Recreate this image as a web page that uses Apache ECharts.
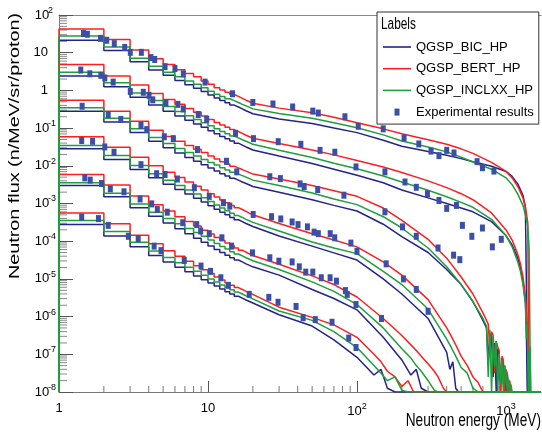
<!DOCTYPE html>
<html>
<head>
<meta charset="utf-8">
<script src="https://cdn.jsdelivr.net/npm/echarts@6.0.0/dist/echarts.min.js"></script>
<style>
  html, body { margin: 0; padding: 0; background: #fff; }
  #chart { width: 542px; height: 432px; }
</style>
</head>
<body>
<div id="chart"></div>
<script>
// -9 marks an empty bin: the histogram falls to the bottom of the frame there.
// Low energy part: histogram bins of 1 MeV from 1 to 20 MeV.
var binEdges = [1, 2, 3, 4, 5, 6, 7, 8, 9, 10, 11, 12, 13, 14, 15, 16, 17, 18, 19, 20];

// group 1 (top curves)
var g1Bic  = [1.33, 1.06, 0.76, 0.54, 0.40, 0.26, 0.15, 0.06, -0.03, -0.12, -0.20, -0.27, -0.33, -0.39, -0.44, -0.49, -0.54, -0.58, -0.62];
var g1Bert = [1.63, 1.35, 1.07, 0.84, 0.69, 0.55, 0.45, 0.36, 0.25, 0.16, 0.07, 0.01, -0.05, -0.11, -0.16, -0.21, -0.26, -0.30, -0.34];
var g1Incl = [1.44, 1.15, 0.85, 0.64, 0.48, 0.36, 0.25, 0.16, 0.07, -0.02, -0.10, -0.16, -0.22, -0.27, -0.32, -0.37, -0.41, -0.45, -0.49];
var g1TailE    = [20, 30, 50, 70, 100, 150, 200, 300, 400, 500, 600, 800, 1000, 1100, 1200, 1300, 1350, 1400, 1430, 1460];
var g1BicTail  = [-0.64, -0.76, -0.88, -1.00, -1.12, -1.32, -1.48, -1.62, -1.72, -1.81, -1.89, -2.01, -2.15, -2.28, -2.48, -2.78, -3.10, -9, -9, -9];
var g1BertTail = [-0.37, -0.47, -0.59, -0.71, -0.86, -1.02, -1.15, -1.31, -1.43, -1.55, -1.67, -1.91, -2.15, -2.32, -2.55, -2.85, -3.10, -3.50, -9, -9];
var g1InclTail = [-0.51, -0.61, -0.74, -0.86, -0.99, -1.18, -1.34, -1.50, -1.63, -1.77, -1.90, -2.09, -2.32, -2.50, -2.75, -3.05, -3.30, -3.60, -4.20, -9];

// group 2
var g2Bic  = [0.38, 0.10, -0.18, -0.39, -0.55, -0.68, -0.79, -0.89, -0.98, -1.07, -1.15, -1.22, -1.28, -1.34, -1.40, -1.45, -1.50, -1.54, -1.58];
var g2Bert = [0.69, 0.38, 0.14, -0.08, -0.24, -0.37, -0.48, -0.58, -0.68, -0.77, -0.85, -0.92, -0.98, -1.04, -1.09, -1.14, -1.19, -1.23, -1.27];
var g2Incl = [0.48, 0.20, -0.07, -0.27, -0.43, -0.56, -0.67, -0.77, -0.86, -0.94, -1.02, -1.09, -1.15, -1.21, -1.26, -1.31, -1.35, -1.39, -1.43];
var g2TailE    = [20, 30, 50, 70, 100, 150, 200, 300, 400, 500, 600, 800, 1000, 1100, 1200, 1250, 1300, 1330, 1350, 1370, 1390, 1410, 1430, 1450, 1470];
var g2BicTail  = [-1.60, -1.74, -1.94, -2.09, -2.25, -2.45, -2.64, -2.85, -3.00, -3.12, -3.22, -3.48, -3.85, -4.10, -4.45, -4.70, -5.05, -5.40, -5.60, -6.30, -9, -9, -9, -9, -9];
var g2BertTail = [-1.29, -1.41, -1.58, -1.71, -1.86, -2.03, -2.18, -2.40, -2.58, -2.74, -2.90, -3.25, -3.70, -3.97, -4.35, -4.60, -4.95, -5.25, -5.45, -5.90, -6.30, -7.20, -9, -9, -9];
var g2InclTail = [-1.45, -1.59, -1.78, -1.93, -2.08, -2.27, -2.43, -2.65, -2.82, -2.97, -3.10, -3.42, -3.85, -4.15, -4.55, -4.80, -5.15, -5.45, -5.65, -6.60, -6.20, -9, -7.00, -6.80, -9];

// group 3
var g3Bic  = [-0.55, -0.84, -1.12, -1.35, -1.52, -1.66, -1.78, -1.88, -1.97, -2.06, -2.14, -2.21, -2.27, -2.33, -2.38, -2.43, -2.47, -2.51, -2.55];
var g3Bert = [-0.26, -0.55, -0.82, -1.06, -1.22, -1.35, -1.46, -1.56, -1.65, -1.74, -1.82, -1.89, -1.95, -2.01, -2.06, -2.10, -2.14, -2.18, -2.22];
var g3Incl = [-0.46, -0.74, -1.02, -1.25, -1.41, -1.54, -1.65, -1.74, -1.83, -1.91, -1.98, -2.05, -2.11, -2.17, -2.22, -2.26, -2.30, -2.34, -2.38];
var g3TailE    = [20, 30, 50, 70, 100, 150, 200, 300, 400, 500, 600, 700, 740, 760, 780, 800, 820, 840, 860, 880, 900, 920, 940, 960, 980, 1000, 1020, 1040, 1060, 1080, 1100];
var g3BicTail  = [-2.57, -2.70, -2.90, -3.05, -3.20, -3.55, -3.88, -4.30, -4.75, -5.15, -5.60, -6.10, -6.30, -7.20, -6.45, -6.55, -7.60, -6.70, -9, -6.85, -6.95, -9, -7.10, -7.80, -7.30, -9, -7.50, -9, -9, -9, -9];
var g3BertTail = [-2.24, -2.35, -2.52, -2.66, -2.81, -3.12, -3.45, -3.95, -4.45, -4.95, -5.40, -5.90, -6.10, -6.20, -6.90, -6.40, -6.50, -7.50, -6.65, -6.80, -6.90, -8.00, -7.05, -7.15, -9, -7.40, -7.50, -9, -7.70, -9, -9];
var g3InclTail = [-2.40, -2.52, -2.72, -2.88, -3.03, -3.35, -3.65, -4.18, -4.68, -5.15, -5.60, -6.05, -6.25, -7.60, -6.35, -9, -6.50, -7.30, -6.65, -9, -7.00, -7.80, -7.15, -9, -7.30, -7.50, -9, -7.65, -9, -7.80, -9];

// group 4
var g4Bic  = [-1.55, -1.83, -2.10, -2.32, -2.49, -2.63, -2.75, -2.86, -2.96, -3.06, -3.15, -3.23, -3.30, -3.37, -3.43, -3.48, -3.53, -3.57, -3.61];
var g4Bert = [-1.23, -1.51, -1.77, -2.00, -2.17, -2.31, -2.43, -2.54, -2.64, -2.74, -2.83, -2.91, -2.98, -3.05, -3.11, -3.16, -3.21, -3.26, -3.30];
var g4Incl = [-1.46, -1.73, -1.99, -2.21, -2.38, -2.52, -2.64, -2.75, -2.85, -2.95, -3.04, -3.12, -3.19, -3.26, -3.32, -3.37, -3.42, -3.46, -3.50];
var g4TailE    = [20, 30, 50, 70, 100, 150, 200, 300, 400, 420, 440, 460, 480, 500, 550, 600, 650, 700];
var g4BicTail  = [-3.63, -3.86, -4.13, -4.31, -4.50, -5.00, -5.40, -6.05, -6.95, -7.40, -7.20, -7.90, -9, -9, -9, -9, -9, -9];
var g4BertTail = [-3.33, -3.53, -3.80, -3.97, -4.15, -4.55, -4.90, -5.55, -6.30, -6.45, -6.60, -6.75, -6.90, -7.05, -7.30, -7.60, -7.75, -9];
var g4InclTail = [-3.52, -3.73, -4.02, -4.18, -4.33, -4.80, -5.15, -5.80, -6.60, -6.75, -6.90, -7.05, -7.20, -7.35, -7.50, -7.90, -9, -9];

// group 5
var g5Bic  = [-2.52, -2.82, -3.11, -3.34, -3.52, -3.67, -3.80, -3.92, -4.03, -4.13, -4.22, -4.30, -4.37, -4.44, -4.50, -4.55, -4.60, -4.64, -4.68];
var g5Bert = [-2.23, -2.51, -2.80, -3.03, -3.20, -3.35, -3.48, -3.60, -3.71, -3.81, -3.90, -3.98, -4.05, -4.12, -4.18, -4.24, -4.29, -4.34, -4.38];
var g5Incl = [-2.45, -2.73, -3.01, -3.23, -3.40, -3.54, -3.66, -3.77, -3.87, -3.97, -4.06, -4.14, -4.21, -4.28, -4.34, -4.39, -4.44, -4.48, -4.52];
var g5TailE    = [20, 30, 50, 70, 100, 150, 200, 230, 250, 270, 300, 330, 350, 380, 400];
var g5BicTail  = [-4.70, -4.90, -5.28, -5.52, -5.82, -6.55, -7.15, -7.55, -7.40, -7.90, -9, -9, -9, -9, -9];
var g5BertTail = [-4.40, -4.61, -4.92, -5.15, -5.48, -6.05, -6.50, -6.75, -6.90, -7.05, -7.25, -7.45, -7.60, -7.90, -9];
var g5InclTail = [-4.55, -4.75, -5.08, -5.33, -5.68, -6.30, -6.85, -7.10, -7.30, -7.45, -7.70, -7.95, -9, -9, -9];

// group 6 (bottom curves)
var g6Bic  = [-3.56, -3.86, -4.15, -4.38, -4.55, -4.69, -4.81, -4.92, -5.02, -5.11, -5.19, -5.27, -5.34, -5.40, -5.46, -5.51, -5.56, -5.60, -5.64];
var g6Bert = [-3.25, -3.54, -3.84, -4.07, -4.25, -4.40, -4.53, -4.65, -4.76, -4.86, -4.95, -5.03, -5.10, -5.17, -5.23, -5.28, -5.33, -5.37, -5.41];
var g6Incl = [-3.45, -3.74, -4.03, -4.26, -4.43, -4.57, -4.69, -4.80, -4.90, -5.00, -5.08, -5.16, -5.23, -5.29, -5.35, -5.40, -5.45, -5.49, -5.53];
var g6TailE    = [20, 30, 50, 70, 100, 130, 145, 160, 180, 200, 220, 240];
var g6BicTail  = [-5.66, -5.95, -6.25, -6.62, -7.08, -7.55, -7.40, -7.90, -9, -9, -9, -9];
var g6BertTail = [-5.43, -5.75, -6.02, -6.22, -6.55, -7.00, -7.20, -7.45, -7.60, -7.85, -7.70, -9];
var g6InclTail = [-5.55, -5.85, -6.10, -6.40, -6.82, -7.30, -7.50, -7.70, -7.60, -7.95, -9, -9];

// experimental points: [energy MeV, log10 flux]
var g1Exp = [[1.46,1.51],[1.55,1.49],[1.9,1.38],[2.09,1.33],[2.35,1.24],[2.76,1.14],[3.01,1.01],[3.57,1.01],[4.14,0.87],[4.39,0.82],[5.15,0.63],[6.0,0.58],[6.83,0.44],[9.55,0.22],[14.6,-0.09],[20,-0.32],[27.3,-0.36],[37,-0.44],[50.5,-0.55],[55,-0.6],[83,-0.70],[102,-0.95],[150,-1.02],[207,-1.26],[260,-1.42],[314,-1.61],[355,-1.73],[400,-1.59],[448,-1.66],[640,-1.89],[695,-2.05],[830,-2.14]];
var g2Exp = [[1.40,0.54],[1.61,0.44],[1.91,0.40],[2.03,0.33],[2.31,0.22],[3.01,-0.03],[3.68,-0.05],[4.02,-0.13],[4.26,-0.25],[5.22,-0.33],[6.28,-0.37],[6.83,-0.49],[8.6,-0.64],[9.8,-0.77],[15.3,-1.14],[20.2,-1.28],[29.6,-1.36],[42,-1.43],[56.5,-1.59],[71,-1.64],[98.5,-2.03],[154,-2.16],[210,-2.43],[250,-2.57],[297,-2.74],[355,-2.92],[400,-3.13],[465,-3.05],[510,-3.58],[590,-3.87],[695,-3.65],[810,-4.15],[930,-3.95]];
var g3Exp = [[1.43,-0.42],[2.14,-0.64],[2.6,-0.77],[3.55,-0.93],[3.88,-1.04],[5.09,-1.23],[5.85,-1.28],[8.5,-1.57],[13.3,-1.88],[15.6,-2.16],[26,-2.29],[30.6,-2.34],[41.5,-2.48],[44.2,-2.55],[54.5,-2.63],[81.7,-2.78],[154,-3.22],[202,-3.62],[250,-3.87],[350,-4.18],[445,-4.37],[490,-4.49]];
var g4Exp = [[1.42,-1.33],[1.68,-1.35],[2.03,-1.50],[2.34,-1.64],[3.55,-1.97],[4.52,-2.21],[5.15,-2.23],[6.23,-2.35],[8.1,-2.58],[10.2,-2.81],[12.7,-2.98],[14.0,-3.07],[20.1,-3.29],[26.7,-3.35],[30.8,-3.41],[36.7,-3.49],[40.2,-3.56],[46.5,-3.62],[51.5,-3.76],[55,-3.80],[66.1,-3.80],[70.9,-3.91],[91,-4.05],[100,-4.27],[157,-4.6],[205,-5.0],[250,-5.28],[300,-5.86]];
var g5Exp = [[1.49,-2.32],[1.62,-2.38],[1.93,-2.47],[2.21,-2.61],[2.73,-2.69],[3.5,-2.88],[4.19,-3.01],[4.57,-3.16],[5.33,-3.23],[6.77,-3.51],[8.4,-3.56],[8.93,-3.73],[10.2,-3.80],[12.4,-3.91],[14.4,-4.13],[19.9,-4.31],[26,-4.44],[29.9,-4.53],[36.7,-4.55],[41,-4.68],[45.3,-4.82],[50.5,-4.82],[57.6,-4.97],[66,-4.97],[72.8,-5.06],[83.6,-5.31],[86,-5.41],[98.5,-5.68],[146,-6.05]];
var g6Exp = [[1.42,-3.36],[1.84,-3.40],[2.14,-3.58],[2.92,-3.87],[3.4,-3.93],[4.35,-4.13],[4.84,-4.25],[6.93,-4.51],[8.98,-4.66],[10.4,-4.80],[12.2,-4.97],[13.7,-5.17],[18.9,-5.41],[25.6,-5.49],[29.5,-5.62],[39,-5.73],[43.5,-6.03],[52.5,-6.08],[68,-6.15],[88,-6.57],[98.5,-6.82]];

// minor tick positions of the log axes
var xMinorTicks = [2,3,4,5,6,7,8,9,20,30,40,50,60,70,80,90,200,300,400,500,600,700,800,900];
var yMinorMantissa = [2,3,4,5,6,7,8,9];
var yDecades = [-8,-7,-6,-5,-4,-3,-2,-1,0,1];

var FONT = "'Liberation Sans', Arial, Helvetica, sans-serif";
var COLORS = { bic: '#23238c', bert: '#ff1e1e', incl: '#1e9e3c', exp: '#3b4fa6' };
var X_MIN = 1, X_MAX = 1718, Y_MIN = 1e-8, Y_MAX = 100;

function flux(e) { return e <= -8 ? Y_MIN : Math.pow(10, e); }

function histData(bins, tailE, tail) {
    var d = [[binEdges[0], Y_MIN]];
    for (var i = 0; i < bins.length; i++) {
        d.push([binEdges[i], flux(bins[i])]);
        d.push([binEdges[i + 1], flux(bins[i])]);
    }
    for (var j = 0; j < tailE.length; j++) {
        d.push([tailE[j], flux(tail[j])]);
    }
    d.push([X_MAX, Y_MIN]);
    return d;
}

var groups = [
    {bic: [g1Bic, g1TailE, g1BicTail], bert: [g1Bert, g1TailE, g1BertTail], incl: [g1Incl, g1TailE, g1InclTail], exp: g1Exp},
    {bic: [g2Bic, g2TailE, g2BicTail], bert: [g2Bert, g2TailE, g2BertTail], incl: [g2Incl, g2TailE, g2InclTail], exp: g2Exp},
    {bic: [g3Bic, g3TailE, g3BicTail], bert: [g3Bert, g3TailE, g3BertTail], incl: [g3Incl, g3TailE, g3InclTail], exp: g3Exp},
    {bic: [g4Bic, g4TailE, g4BicTail], bert: [g4Bert, g4TailE, g4BertTail], incl: [g4Incl, g4TailE, g4InclTail], exp: g4Exp},
    {bic: [g5Bic, g5TailE, g5BicTail], bert: [g5Bert, g5TailE, g5BertTail], incl: [g5Incl, g5TailE, g5InclTail], exp: g5Exp},
    {bic: [g6Bic, g6TailE, g6BicTail], bert: [g6Bert, g6TailE, g6BertTail], incl: [g6Incl, g6TailE, g6InclTail], exp: g6Exp}
];

var models = [
    {key: 'bic', name: 'QGSP_BIC_HP'},
    {key: 'bert', name: 'QGSP_BERT_HP'},
    {key: 'incl', name: 'QGSP_INCLXX_HP'}
];

var series = [];
models.forEach(function (m) {
    groups.forEach(function (g) {
        var a = g[m.key];
        series.push({
            name: m.name,
            type: 'line',
            data: histData(a[0], a[1], a[2]),
            symbol: 'none',
            clip: true,
            lineStyle: {color: COLORS[m.key], width: 1.5},
            itemStyle: {color: COLORS[m.key]},
            silent: true
        });
    });
});

var expPoints = [];
groups.forEach(function (g) {
    g.exp.forEach(function (p) { expPoints.push([p[0], Math.pow(10, p[1])]); });
});
series.push({
    name: 'Experimental results',
    type: 'scatter',
    data: expPoints,
    symbol: 'rect',
    symbolSize: [5, 7],
    itemStyle: {color: COLORS.exp, opacity: 1},
    silent: true,
    z: 5
});

// minor ticks of both axes, drawn through the axis scales
var xTickData = xMinorTicks.map(function (v) { return [v, Y_MIN]; });
var yTickData = [];
yDecades.forEach(function (d) {
    yMinorMantissa.forEach(function (m) { yTickData.push([X_MIN, m * Math.pow(10, d)]); });
});
series.push({
    type: 'custom', silent: true, z: 1, clip: false,
    data: xTickData,
    renderItem: function (params, api) {
        var p = api.coord([api.value(0), api.value(1)]);
        return {type: 'line', shape: {x1: p[0], y1: p[1], x2: p[0], y2: p[1] - 6},
                style: {stroke: '#777', lineWidth: 1}};
    }
});
series.push({
    type: 'custom', silent: true, z: 1, clip: false,
    data: yTickData,
    renderItem: function (params, api) {
        var p = api.coord([api.value(0), api.value(1)]);
        return {type: 'line', shape: {x1: p[0], y1: p[1], x2: p[0] + 8, y2: p[1]},
                style: {stroke: '#888', lineWidth: 1}};
    }
});

function powLabel(v) {
    var e = Math.round(Math.log10(v));
    if (e === 0) return '{b|1}';
    if (e === 1) return '{b|10}';
    return '{b|10}{s|' + e + '}';
}

var lineIcon = 'path://M0,0 H28 V1.6 H0 Z';
var squareIcon = 'path://M0,0 H5 V7 H0 Z';

var chart = echarts.init(document.getElementById('chart'), null, {renderer: 'canvas'});
chart.setOption({
    animation: false,
    backgroundColor: '#fff',
    grid: {left: 59, right: 1, top: 15, bottom: 40},
    xAxis: [{
        type: 'log', logBase: 10, min: X_MIN, max: X_MAX,
        axisLine: {lineStyle: {color: '#777', width: 1}},
        axisTick: {inside: true, length: 11, lineStyle: {color: '#555'}},
        splitLine: {show: false},
        axisLabel: {
            margin: 10, color: '#000', fontFamily: FONT, showMaxLabel: false,
            formatter: powLabel,
            rich: {
                b: {fontSize: 13, fontFamily: FONT, color: '#000'},
                s: {fontSize: 9, fontFamily: FONT, color: '#000', padding: [0, 0, 9, 0]}
            }
        }
    }, {
        type: 'log', logBase: 10, min: X_MIN, max: X_MAX, position: 'top',
        axisLine: {lineStyle: {color: '#888', width: 1.2}},
        axisTick: {show: false}, axisLabel: {show: false}, splitLine: {show: false}
    }],
    yAxis: {
        type: 'log', logBase: 10, min: Y_MIN, max: Y_MAX, interval: 1, splitNumber: 10,
        axisLine: {show: true, lineStyle: {color: '#777', width: 1}},
        axisTick: {inside: true, length: 14, interval: 0, lineStyle: {color: '#555'}},
        splitLine: {show: false},
        axisLabel: {
            margin: 23, align: 'left', color: '#000', fontFamily: FONT, interval: 0,
            formatter: powLabel,
            rich: {
                b: {fontSize: 13, fontFamily: FONT, color: '#000', width: 12, align: 'right'},
                s: {fontSize: 9, fontFamily: FONT, color: '#000', padding: [0, 0, 9, 0]}
            }
        }
    },
    legend: {
        orient: 'vertical', left: 377, top: 12,
        data: [
            {name: 'QGSP_BIC_HP', icon: lineIcon},
            {name: 'QGSP_BERT_HP', icon: lineIcon},
            {name: 'QGSP_INCLXX_HP', icon: lineIcon},
            {name: 'Experimental results', icon: squareIcon}
        ],
        itemWidth: 28, itemHeight: 7, itemGap: 7.7,
        padding: [28, 5, 5, 6],
        backgroundColor: '#fff', borderColor: '#333', borderWidth: 1,
        textStyle: {fontFamily: FONT, fontSize: 13, lineHeight: 14, color: '#000'},
        selectedMode: false
    },
    graphic: [
        {type: 'text', x: 381, y: 25, z: 100, scaleX: 0.74,
         style: {text: 'Labels', font: '16px ' + FONT, fill: '#000', verticalAlign: 'middle'}},
        {type: 'text', x: 541, y: 421, z: 100, scaleX: 0.76,
         style: {text: 'Neutron energy (MeV)', font: '18px ' + FONT, fill: '#000',
                 align: 'right', verticalAlign: 'middle'}},
        {type: 'text', x: 7, y: 13, rotation: Math.PI / 2, scaleY: 0.78, z: 100,
         style: {text: 'Neutron flux (n/MeV/sr/proton)', font: '19.8px ' + FONT, fill: '#000',
                 align: 'right', verticalAlign: 'top'}}
    ],
    series: series
});
</script>
</body>
</html>
